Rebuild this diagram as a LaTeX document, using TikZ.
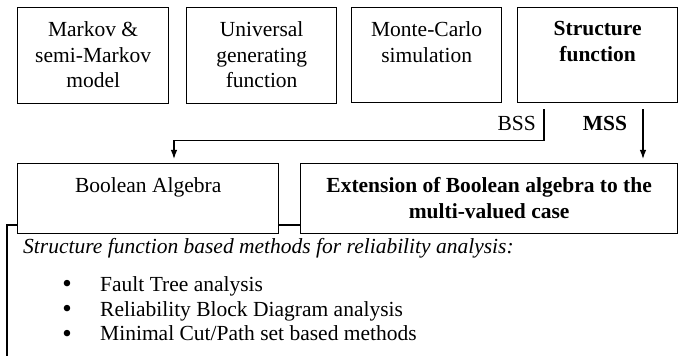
\documentclass[tikz,border=0pt]{standalone}
\usepackage{fontspec}
\setmainfont{Liberation Serif}
\usetikzlibrary{arrows.meta}

\begin{document}
\begin{tikzpicture}[x=1pt,y=-1pt,
  every node/.style={font=\fontsize{21.5}{25.5}\selectfont, inner sep=0pt},
  box/.style={draw, line width=1.3pt, fill=white, anchor=north west},
  boxtext/.style={anchor=north, align=center},
  line/.style={line width=1.2pt},
  conn/.style={line width=1.2pt, -{Latex[length=9pt,width=6.5pt]}},
  bulletmark/.style={anchor=base, font=\fontsize{27}{27}\selectfont}]
\useasboundingbox (0,0) rectangle (678,358);

% outer frame of the method list (left and top edges)
\coordinate (frameBottom) at (7,356);
\coordinate (frameRight) at (300,225);
\draw[line] (frameBottom) |- (frameRight);

% top row of method boxes
\node[box, minimum width=151pt, minimum height=96pt] (mk) at (17,7) {};
\node[box, minimum width=150pt, minimum height=96pt] (ug) at (186,7) {};
\node[box, minimum width=150pt, minimum height=95pt] (mc) at (351,7) {};
\node[box, minimum width=160pt, minimum height=95pt] (sf) at (517,7) {};

\node[boxtext] (mkt) at ([yshift=-14.5pt]mk.north) {Markov \&\\semi-Markov\\model};
\node[boxtext] (ugt) at ([yshift=-14.5pt]ug.north) {Universal\\generating\\function};
\node[boxtext] (mct) at ([yshift=-14.5pt]mc.north) {Monte-Carlo\\simulation};
\node[boxtext, font=\fontsize{21.5}{25.5}\selectfont\bfseries] (sft) at ([yshift=-14.5pt]sf.north) {Structure\\function};

% second row
\node[box, minimum width=261pt, minimum height=70pt] (ba) at (17,163) {};
\node[box, minimum width=377pt, minimum height=70pt] (ext) at (300,163) {};

\node[boxtext] (bat) at ([yshift=-14.5pt]ba.north) {Boolean Algebra};
\node[boxtext, font=\fontsize{21.5}{26}\selectfont\bfseries] (extt) at ([yshift=-14.5pt]ext.north) {Extension of Boolean algebra to the\\multi-valued case};

% connectors from the structure function
\coordinate (bssStart) at ([xshift=27pt,yshift=-6pt]sf.south west);
\coordinate (bssTurn) at ([xshift=157pt]ba.north west);
\draw[conn, shorten >=4pt] (bssStart) -- ++(0,-31pt) -| (bssTurn);
\coordinate (mssStart) at ([xshift=126pt,yshift=-6pt]sf.south west);
\draw[conn, shorten >=4pt] (mssStart) -- (mssStart |- ext.north);

\node[anchor=base east] (bss) at (536,131) {BSS};
\node[anchor=base, font=\fontsize{21.5}{25.5}\selectfont\bfseries] (mss) at (605,131) {MSS};

% list of structure-function based methods
\node[anchor=base west, font=\fontsize{21.5}{25.5}\selectfont\itshape] (head) at (23,254) {Structure function based methods for reliability analysis:};

\node[bulletmark] (b1) at (67,293) {\textbullet};
\node[bulletmark] (b2) at (67,317.5) {\textbullet};
\node[bulletmark] (b3) at (67,342) {\textbullet};
\node[anchor=base west] (i1) at (100,292) {Fault Tree analysis};
\node[anchor=base west] (i2) at (100,316.5) {Reliability Block Diagram analysis};
\node[anchor=base west] (i3) at (100,341) {Minimal Cut/Path set based methods};
\end{tikzpicture}
\end{document}
